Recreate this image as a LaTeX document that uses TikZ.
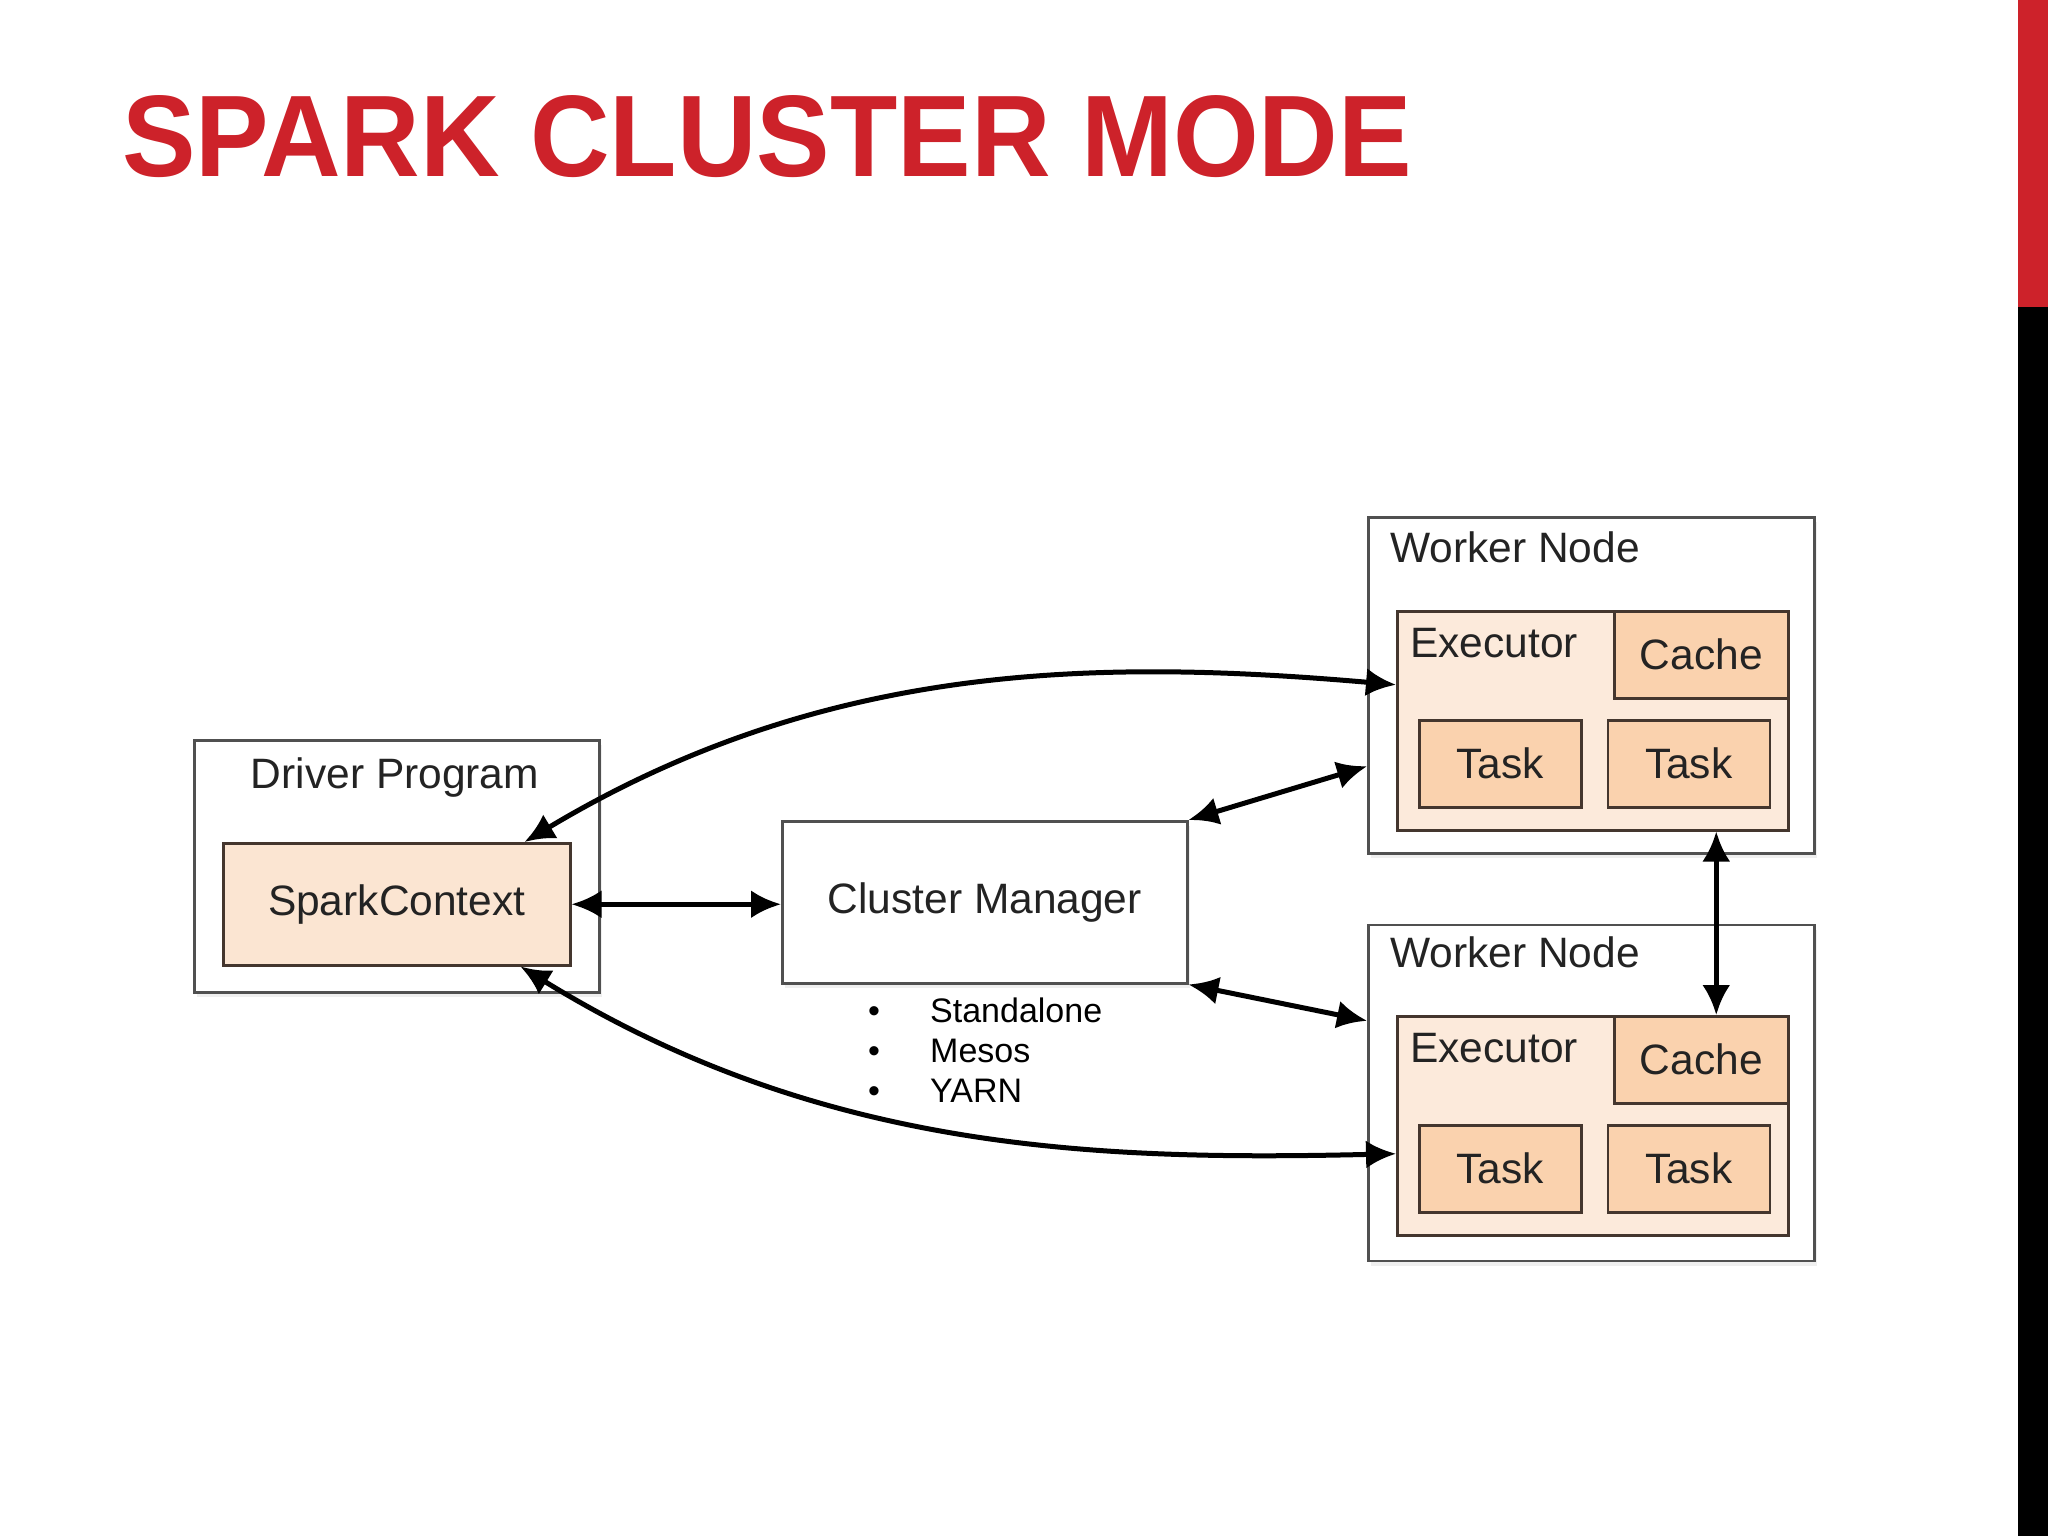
\documentclass[tikz,border=0pt]{standalone}
\usepackage{fontspec}
\setmainfont{Liberation Sans}
\usepackage{graphicx}
\usetikzlibrary{
  arrows.meta,
  positioning,
  shadows,
}
\definecolor{sparkred}{RGB}{205, 34, 42}
\definecolor{boxgrey}{RGB}{80, 80, 80}
\definecolor{boxbrown}{RGB}{68, 54, 46}
\definecolor{execpeach}{RGB}{252, 234, 219}
\definecolor{taskpeach}{RGB}{250, 210, 174}
\definecolor{scpeach}{RGB}{251, 229, 210}
\definecolor{textgrey}{RGB}{35, 35, 35}
\newcommand{\boxfont}{\fontsize{42.5}{50}\selectfont}
\newcommand{\listfont}{\fontsize{34}{40}\selectfont}
\tikzstyle{arrow} = [
  {Latex[length=30pt,width=28pt]}-{Latex[length=30pt,width=28pt]},
  line width=5pt,
  black,
]
\tikzstyle{outerbox} = [
  rectangle,
  draw=boxgrey,
  line width=2.5pt,
  fill=white,
  font=\boxfont,
  text=textgrey,
  drop shadow={shadow xshift=3pt,shadow yshift=-5pt,opacity=.12},
]
\tikzstyle{execbox} = [rectangle,draw=boxbrown,line width=2.5pt,fill=execpeach]
\tikzstyle{taskbox} = [
  rectangle,
  draw=boxbrown,
  line width=2.5pt,
  fill=taskpeach,
  minimum width=162pt,
  minimum height=87pt,
  font=\boxfont,
  text=textgrey,
]
\tikzstyle{lbl} = [inner sep=0pt,font=\boxfont,text=textgrey]
\tikzstyle{listitem} = [anchor=base west,inner sep=0pt,font=\listfont,text=black]

\begin{document}
\begin{tikzpicture}[x=1pt,y=-1pt,node distance=24pt and 24pt]
\useasboundingbox[fill=white] (0,0) rectangle (2048,1536);
\fill[sparkred] (2018,0) rectangle (2048,307);
\fill[black] (2018,307) rectangle (2048,1536);

\node[anchor=base west,inner sep=0pt,text=sparkred,font=\fontsize{116}{120}\selectfont\bfseries] (title) at (122,176) {\scalebox{0.95}[1]{SPARK CLUSTER MODE}};

% driver
\node[outerbox,anchor=north west,minimum width=405pt,minimum height=252pt] (dp) at (193,739) {};
\node[lbl,anchor=base] (dplbl) at (395,788) {Driver Program};
\node[taskbox,fill=scpeach,anchor=north west,minimum width=347pt,minimum height=122pt] (sc) at (222,842) {SparkContext};

% cluster manager
\node[outerbox,anchor=north west,minimum width=405pt,minimum height=162pt] (cm) at (781,820) {Cluster Manager};
\node[listitem] (sa) at (868,1022) {\makebox[62pt][l]{\textbullet}Standalone};
\node[listitem] (ms) at (868,1062) {\makebox[62pt][l]{\textbullet}Mesos};
\node[listitem] (yn) at (868,1102) {\makebox[62pt][l]{\textbullet}YARN};

% worker 1
\node[outerbox,anchor=north west,minimum width=446pt,minimum height=336pt] (wn1) at (1367,516) {};
\node[lbl,anchor=base west] (wn1lbl) at (1390,562) {Worker Node};
\node[execbox,anchor=north west,minimum width=391pt,minimum height=219pt] (ex1) at (1396,610) {};
\node[lbl,anchor=base west] (ex1lbl) at (1410,657) {Executor};
\node[taskbox,anchor=north east,minimum width=174pt] (ca1) at (ex1.north east) {Cache};
\node[taskbox,anchor=north west] (tk1a) at (1418,719) {Task};
\node[taskbox] (tk1b) [right=of tk1a] {Task};

% worker 2
\node[outerbox,minimum width=446pt,minimum height=336pt] (wn2) [below=69pt of wn1] {};
\node[lbl,anchor=base west] (wn2lbl) at (1390,967) {Worker Node};
\node[execbox,anchor=north west,minimum width=391pt,minimum height=219pt] (ex2) at (1396,1015) {};
\node[lbl,anchor=base west] (ex2lbl) at (1410,1062) {Executor};
\node[taskbox,anchor=north east,minimum width=174pt] (ca2) at (ex2.north east) {Cache};
\node[taskbox,anchor=north west] (tk2a) at (1418,1124) {Task};
\node[taskbox] (tk2b) [right=of tk2a] {Task};

% connections
\draw[arrow] ([xshift=-47pt]sc.north east) .. controls +(300,-180) and +(-300,-26) .. ([yshift=36pt]ex1.west);
\draw[arrow] ([xshift=-51pt]sc.south east) .. controls +(300,185) and +(-300,7) .. ([yshift=-28pt]ex2.west);
\draw[arrow] (sc.east) -- (sc.east -| cm.west);
\draw[arrow] (cm.north east) -- ([yshift=-81pt]wn1.west);
\draw[arrow] (cm.south east) -- ([yshift=72pt]wn2.west);
\draw[arrow] ([xshift=15pt]ca2.north |- ex1.south) -- ([xshift=15pt]ca2.north);
\end{tikzpicture}
\end{document}
